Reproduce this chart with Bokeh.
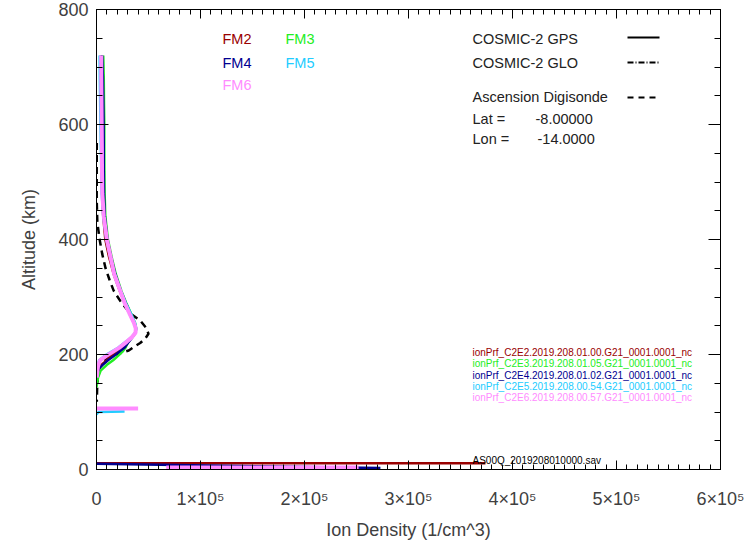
from bokeh.plotting import figure
from bokeh.models import Range1d, FixedTicker, LinearAxis, Label, Arrow
from bokeh.embed import file_html
from bokeh.resources import INLINE

FONT = "Liberation Sans"

# ---------------- data ----------------
X_TICKS = [0, 100000, 200000, 300000, 400000, 500000, 600000]
X_TICK_LABELS = ["0", "1×10⁵", "2×10⁵", "3×10⁵", "4×10⁵", "5×10⁵", "6×10⁵"]
Y_TICKS = [0, 200, 400, 600, 800]
Y_TICK_LABELS = ["0", "200", "400", "600", "800"]

# topside altitudes shared by the COSMIC-2 profiles (km)
ALT_TOP = [720, 680, 640, 600, 560, 520, 480, 440, 400, 370, 340, 310, 290, 270, 255, 245, 238, 230, 222]

FM2_TOP = [4200, 4500, 4700, 4900, 5000, 5200, 5400, 6500, 8500, 12000, 16500, 22500, 27000, 32000, 36000, 37800, 37500, 34000, 29000]
FM2_BOT_ALT = [212, 205, 198, 190, 184, 178, 170, 162]
FM2_BOT = [24000, 19000, 14000, 10000, 6000, 2500, 1000, 300]
FM2_BASE_ALT = [11, 11]
FM2_BASE = [0, 374000]

FM3_TOP = [6500, 7000, 7200, 7500, 7500, 7600, 7800, 8500, 11000, 14500, 18500, 24000, 28500, 33500, 37000, 38200, 37500, 34500, 30500]
FM3_BOT_ALT = [212, 205, 198, 190, 182, 172, 160, 150, 143]
FM3_BOT = [28000, 25000, 21000, 16000, 10000, 4000, 1500, 500, 0]

FM4_TOP = [5500, 6200, 6500, 6800, 7000, 7000, 7200, 8000, 10500, 14000, 18000, 23500, 28000, 33000, 36500, 38000, 37500, 34500, 31000]
FM4_BOT_ALT = [212, 205, 198, 190, 182, 175, 165]
FM4_BOT = [27000, 22000, 17000, 11000, 6000, 2000, 500]
FM4_BASE_ALT = [10, 2.5]
FM4_BASE = [0, 273000]

FM5_TOP = [3000, 3200, 3500, 3800, 4200, 4600, 5000, 6500, 9500, 13000, 17500, 23500, 28000, 33500, 37000, 38200, 37500, 33500, 28000]
FM5_BOT_ALT = [212, 205, 198, 190, 180, 170, 160]
FM5_BOT = [21000, 14500, 8000, 2500, 1000, 300, 0]
FM5_SPIKE_ALT = [96, 100, 101]
FM5_SPIKE = [0, 2000, 27000]

FM6_TOP = [4500, 4600, 4800, 5000, 5200, 5300, 5600, 7000, 10000, 13500, 17000, 23000, 27000, 32000, 36000, 37800, 37500, 34000, 29000]
FM6_BOT_ALT = [212, 205, 198, 190, 180, 170, 160]
FM6_BOT = [22000, 16000, 9900, 3500, 1500, 800, 300]
FM6_SPIKE_ALT = [106, 106]
FM6_SPIKE = [0, 40000]
FM6_BASE_ALT = [3.5, 3.5]
FM6_BASE = [67000, 252000]

# Ascension digisonde profile
DIGI_ALT = [568, 520, 470, 430, 400, 375, 350, 330, 311, 290, 271, 259, 247, 236, 228, 220, 213, 207, 203, 198, 190, 175, 160, 140, 118]
DIGI = [300, 200, 200, 800, 3000, 5500, 8700, 12500, 16500, 24000, 32700, 42000, 47500, 50000, 47000, 42000, 36000, 31000, 24000, 15000, 7000, 2500, 1200, 600, 300]

SATS = ["FM2", "FM3", "FM4", "FM5", "FM6"]
COLORS = {"FM2": "#990000", "FM3": "#22ee22", "FM4": "#000090", "FM5": "#22ccff", "FM6": "#ff8cff"}
FILES = {
    "FM2": "ionPrf_C2E2.2019.208.01.00.G21_0001.0001_nc",
    "FM3": "ionPrf_C2E3.2019.208.01.05.G21_0001.0001_nc",
    "FM4": "ionPrf_C2E4.2019.208.01.02.G21_0001.0001_nc",
    "FM5": "ionPrf_C2E5.2019.208.00.54.G21_0001.0001_nc",
    "FM6": "ionPrf_C2E6.2019.208.00.57.G21_0001.0001_nc",
}
DIGI_FILE = "AS00Q_2019208010000.sav"

NAN = float("nan")

def join(*segs):
    xs, ys = [], []
    for i, (x, y) in enumerate(segs):
        if i:
            xs.append(NAN); ys.append(NAN)
        xs += list(x); ys += list(y)
    return xs, ys

PROFILES = {
    "FM2": join((FM2_TOP + FM2_BOT, ALT_TOP + FM2_BOT_ALT), (FM2_BASE, FM2_BASE_ALT)),
    "FM3": join((FM3_TOP + FM3_BOT, ALT_TOP + FM3_BOT_ALT)),
    "FM4": join((FM4_TOP + FM4_BOT, ALT_TOP + FM4_BOT_ALT), (FM4_BASE, FM4_BASE_ALT)),
    "FM5": join((FM5_TOP + FM5_BOT, ALT_TOP + FM5_BOT_ALT), (FM5_SPIKE, FM5_SPIKE_ALT)),
    "FM6": join((FM6_TOP + FM6_BOT, ALT_TOP + FM6_BOT_ALT), (FM6_SPIKE, FM6_SPIKE_ALT), (FM6_BASE, FM6_BASE_ALT)),
}
WIDTHS = {"FM2": 2.5, "FM3": 2.5, "FM4": 2.5, "FM5": 2.5, "FM6": 4}

# ---------------- figure ----------------
FL, FB = 96, 469  # frame left / bottom on the page (layout helpers)
def sx(px): return px - FL
def sy(py): return FB - py

p = figure(frame_width=624, frame_height=460, output_backend="svg", toolbar_location=None,
           x_range=Range1d(0, 600000), y_range=Range1d(0, 800),
           min_border_left=96, min_border_right=27, min_border_top=9, min_border_bottom=73)
p.background_fill_color = "white"
p.border_fill_color = "white"
p.outline_line_color = "black"
p.xgrid.visible = False
p.ygrid.visible = False

xt = FixedTicker(ticks=X_TICKS, minor_ticks=[i * 10000 for i in range(61)])
yt = FixedTicker(ticks=Y_TICKS, minor_ticks=[i * 50 for i in range(17)])

def style(ax, major, minor):
    ax.major_tick_in = major; ax.major_tick_out = 0
    ax.minor_tick_in = minor; ax.minor_tick_out = 0
    ax.axis_line_color = "black"
    ax.major_tick_line_color = "black"
    ax.minor_tick_line_color = "black"

xa = p.xaxis[0]
xa.ticker = xt
xa.major_label_overrides = {t: l for t, l in zip(X_TICKS, X_TICK_LABELS)}
xa.major_label_text_font = FONT
xa.major_label_text_font_size = "18px"
xa.major_label_text_color = "#404040"
xa.major_label_standoff = 19
xa.axis_label = "Ion Density (1/cm^3)"
xa.axis_label_text_font = FONT
xa.axis_label_text_font_size = "18px"
xa.axis_label_text_font_style = "normal"
xa.axis_label_text_color = "#404040"
xa.axis_label_standoff = 8
style(xa, 9, 5)

ya = p.yaxis[0]
ya.ticker = yt
ya.major_label_overrides = {t: l for t, l in zip(Y_TICKS, Y_TICK_LABELS)}
ya.major_label_text_font = FONT
ya.major_label_text_font_size = "18px"
ya.major_label_text_color = "#404040"
ya.major_label_standoff = 8
ya.axis_label = "Altitude (km)"
ya.axis_label_text_font = FONT
ya.axis_label_text_font_size = "18px"
ya.axis_label_text_font_style = "normal"
ya.axis_label_text_color = "#404040"
ya.axis_label_standoff = 16
style(ya, 12, 6)

top = LinearAxis(ticker=xt, major_label_text_font_size="1px", major_label_standoff=0,
                 major_label_overrides={t: "" for t in X_TICKS})
style(top, 9, 5)
p.add_layout(top, "above")
right = LinearAxis(ticker=yt, major_label_text_font_size="1px", major_label_standoff=0,
                   major_label_overrides={t: "" for t in Y_TICKS})
style(right, 12, 6)
p.add_layout(right, "right")

# ---------------- data lines ----------------
p.line(DIGI, DIGI_ALT, line_color="black", line_width=2.5, line_dash="7 5")
for s in SATS:
    xs, ys = PROFILES[s]
    p.line(xs, ys, line_color=COLORS[s], line_width=WIDTHS[s])

# ---------------- legends / annotations ----------------
def txt(text, px, py, color="#222222", size="14.5px"):
    p.add_layout(Label(x=sx(px), y=sy(py), x_units="screen", y_units="screen", text=text,
                       text_font=FONT, text_font_size=size, text_color=color,
                       text_align="left", text_baseline="middle"))

FM_POS = {"FM2": (222, 38), "FM3": (285, 38), "FM4": (222, 62), "FM5": (285, 62), "FM6": (222, 84)}
for s in SATS:
    txt(s, *FM_POS[s], color=COLORS[s])

txt("COSMIC-2 GPS", 472, 38)
txt("COSMIC-2 GLO", 472, 62)
txt("Ascension  Digisonde", 472, 96)
txt("Lat =", 472, 118)
txt("-8.00000", 535, 118)
txt("Lon =", 472, 138)
txt("-14.0000", 537, 138)

for dash, py in [("solid", 37), ("6 2 1 2", 62), ("6 5", 97)]:
    p.add_layout(Arrow(start=None, end=None, x_start=sx(627), y_start=sy(py), x_end=sx(659), y_end=sy(py),
                       start_units="screen", end_units="screen",
                       line_color="black", line_width=2, line_dash=dash))

for i, s in enumerate(SATS):
    txt(FILES[s], 472, 352 + i * 11.3, color=COLORS[s], size="10px")
txt(DIGI_FILE, 472, 460, color="black", size="10px")

open("out.html", "w").write(file_html(p, INLINE))
